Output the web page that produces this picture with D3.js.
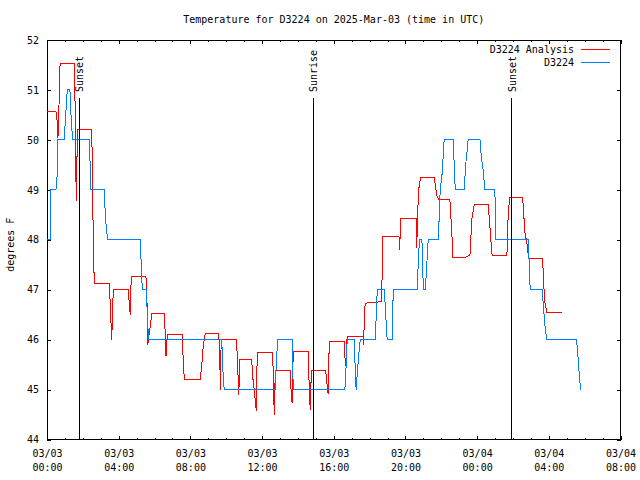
<!DOCTYPE html>
<html>
<head>
<meta charset="utf-8">
<script src="https://cdn.jsdelivr.net/npm/d3@7"></script>
<style>
  html, body { margin: 0; padding: 0; background: #fff; }
  svg { display: block; }
  text { font-family: "DejaVu Sans Mono", monospace; font-size: 10px; fill: #000; }
</style>
</head>
<body>
<svg id="chart" width="640" height="480"></svg>
<script>
// ---------------- data ----------------
// hours since 2025-03-03 00:00 UTC
const analysisHours = [0.00,0.50,0.56,0.61,0.67,0.73,1.51,1.56,1.61,1.65,1.69,2.49,2.54,2.58,2.64,3.48,3.51,3.61,3.70,4.54,4.59,4.65,4.70,5.52,5.58,5.62,5.71,5.78,5.86,6.54,6.60,6.64,6.71,7.55,7.59,7.66,8.55,8.63,8.72,8.83,9.58,9.62,9.65,9.67,9.72,10.58,10.61,10.67,10.71,10.73,11.42,11.48,11.59,11.68,11.73,12.59,12.65,12.68,12.74,13.57,13.63,13.68,13.74,14.58,14.64,14.69,14.75,15.55,15.60,15.66,15.69,15.75,16.59,16.62,16.66,16.75,17.65,17.67,17.71,17.76,18.43,18.65,18.69,18.73,19.64,19.68,19.73,20.59,20.63,20.68,20.75,20.85,21.61,21.69,21.76,21.87,22.48,22.58,22.65,23.38,23.60,23.67,23.71,23.84,24.62,24.70,24.77,24.84,25.66,25.69,25.74,25.83,26.54,26.61,26.67,26.78,26.87,27.65,27.71,27.76,27.88,28.71];
const analysisTemps = [50.57,50.57,50.40,50.03,50.70,51.53,51.53,50.87,49.27,48.77,50.20,50.20,49.40,47.93,47.13,47.13,46.87,46.00,47.01,47.01,46.70,46.50,47.27,47.27,46.73,45.90,46.13,46.33,46.53,46.53,46.10,45.67,46.10,46.10,45.70,45.20,45.20,45.47,45.87,46.13,46.13,45.83,45.50,45.00,46.01,46.01,45.70,45.20,44.90,45.61,45.61,45.25,44.90,44.57,45.75,45.75,44.97,44.50,45.38,45.38,44.90,44.73,45.77,45.77,44.90,44.60,45.39,45.39,45.20,45.00,44.91,45.97,45.97,45.67,45.47,46.07,46.07,45.90,46.52,46.73,46.75,46.77,47.13,48.07,48.07,47.80,48.43,48.43,47.83,48.53,49.03,49.25,49.25,49.03,48.87,48.80,48.80,48.20,47.65,47.65,47.70,48.17,48.43,48.71,48.71,48.33,47.97,47.68,47.68,48.00,48.58,48.85,48.85,48.46,48.13,47.93,47.63,47.63,47.20,46.80,46.55,46.55];

const stationHours = [0.00,0.17,0.18,0.22,0.50,0.56,0.61,0.97,1.02,1.08,1.13,1.28,1.34,1.39,1.45,2.36,2.43,2.45,3.20,3.25,3.33,3.39,5.21,5.26,5.32,5.56,5.59,5.67,9.75,9.80,9.86,9.89,12.74,12.79,12.87,13.68,13.74,16.62,16.68,16.75,17.14,17.20,17.25,17.31,17.37,17.48,18.32,18.37,18.43,18.82,18.87,18.93,18.98,19.26,19.32,20.66,20.71,20.78,20.92,21.00,21.11,21.19,21.27,21.83,21.89,21.94,22.04,22.11,22.16,22.67,22.72,22.78,23.28,23.36,23.42,23.50,24.16,24.25,24.34,24.43,24.99,25.05,26.85,26.91,26.96,27.63,27.71,27.78,27.88,29.55,29.62,29.68,29.77];
const stationTemps = [48.00,48.00,48.50,49.00,49.00,49.27,50.00,50.00,50.40,50.70,51.00,51.00,50.50,50.20,50.00,50.00,49.27,49.00,49.00,48.50,48.17,48.00,48.00,47.45,47.00,47.00,46.50,46.00,46.00,45.50,45.10,45.00,45.00,45.50,46.00,46.00,45.00,45.00,45.40,46.00,46.00,45.40,45.00,45.30,45.60,46.00,46.00,46.50,47.00,47.00,46.70,46.30,46.00,46.00,47.00,47.00,47.50,48.00,48.00,47.00,47.00,47.50,48.00,48.00,48.50,49.00,49.30,49.70,50.00,50.00,49.50,49.00,49.00,49.50,49.70,50.00,50.00,49.60,49.40,49.00,49.00,48.00,48.00,47.50,47.00,47.00,46.60,46.30,46.00,46.00,45.70,45.40,45.00];

const eventNames = ["Sunset", "Sunrise", "Sunset"];
const eventHours = [1.80, 14.86, 25.93];

const seriesNames = ["D3224 Analysis", "D3224"];
const seriesColors = ["#ff0000", "#0080ff"];

const yTicks = [44, 45, 46, 47, 48, 49, 50, 51, 52];
const titleText = "Temperature for D3224 on 2025-Mar-03 (time in UTC)";
const yLabel = "degrees F";

// ---------------- setup ----------------
const start = Date.UTC(2025, 2, 3, 0, 0);
const toDate = h => new Date(start + h * 3600000);
const xDomain = [toDate(0), toDate(32)];

const L = 47, R = 620.5, T = 40, B = 439.5;
const svg = d3.select("#chart");

const x = d3.scaleUtc().domain(xDomain).range([L, R]);
const y = d3.scaleLinear().domain([44, 52]).range([B, T]);

const majorX = d3.utcHour.every(4).range(xDomain[0], toDate(32.01));
const minorX = d3.utcHour.every(1).range(xDomain[0], toDate(32.01));

// title
svg.append("text").attr("x", (L + R) / 2).attr("y", 23)
  .attr("text-anchor", "middle").text(titleText);

// y label
svg.append("text")
  .attr("transform", `translate(14,${(T + B) / 2 + 5}) rotate(-90)`)
  .attr("text-anchor", "middle").text(yLabel);

// minor ticks (bottom & top)
const g = svg.append("g").attr("shape-rendering", "crispEdges");
g.append("g").attr("transform", `translate(0,${B})`)
  .call(d3.axisBottom(x).tickValues(minorX).tickSize(-2).tickFormat(""))
  .call(s => s.select(".domain").remove());
g.append("g").attr("transform", `translate(0,${T})`)
  .call(d3.axisTop(x).tickValues(minorX).tickSize(-2).tickFormat(""))
  .call(s => s.select(".domain").remove());

// major x ticks bottom with labels
const fmtD = d3.utcFormat("%m/%d"), fmtT = d3.utcFormat("%H:%M");
const xb = g.append("g").attr("transform", `translate(0,${B})`)
  .call(d3.axisBottom(x).tickValues(majorX).tickSize(-4).tickFormat(d => fmtD(d) + "|" + fmtT(d)));
xb.select(".domain").remove();
xb.selectAll(".tick text").each(function () {
  const parts = d3.select(this).text().split("|");
  const t = d3.select(this).text(null).attr("y", 0).attr("dy", null);
  t.append("tspan").attr("x", 0).attr("y", 17).text(parts[0]);
  t.append("tspan").attr("x", 0).attr("y", 31).text(parts[1]);
});
g.append("g").attr("transform", `translate(0,${T})`)
  .call(d3.axisTop(x).tickValues(majorX).tickSize(-4).tickFormat(""))
  .call(s => s.select(".domain").remove());

// y ticks
const yl = g.append("g").attr("transform", `translate(${L},0)`)
  .call(d3.axisLeft(y).tickValues(yTicks).tickSize(-4).tickPadding(8).tickFormat(d3.format("d")));
yl.select(".domain").remove();
g.append("g").attr("transform", `translate(${R},0)`)
  .call(d3.axisRight(y).tickValues(yTicks).tickSize(-4).tickFormat(""))
  .call(s => s.select(".domain").remove());

svg.selectAll(".tick text").style("font-family", '"DejaVu Sans Mono", monospace').style("font-size", "10px").attr("fill", "#000");
svg.selectAll(".tick line").attr("stroke", "#000");

// frame
g.append("rect").attr("x", L).attr("y", T).attr("width", R - L).attr("height", B - T)
  .attr("fill", "none").attr("stroke", "#000");

// series
const line = d3.line().x(d => x(toDate(d[0]))).y(d => y(d[1]));
const analysis = analysisHours.map((h, i) => [h, analysisTemps[i]]);
const station = stationHours.map((h, i) => [h, stationTemps[i]]);

svg.append("path").datum(analysis).attr("d", line)
  .attr("fill", "none").attr("stroke", seriesColors[0]).attr("stroke-width", 1)
  .attr("shape-rendering", "crispEdges");
svg.append("path").datum(station).attr("d", line)
  .attr("fill", "none").attr("stroke", seriesColors[1]).attr("stroke-width", 1)
  .attr("shape-rendering", "crispEdges");

// events
eventHours.forEach((h, i) => {
  const ex = x(toDate(h));
  svg.append("line").attr("x1", ex).attr("x2", ex).attr("y1", 98).attr("y2", B)
    .attr("stroke", "#000").attr("shape-rendering", "crispEdges");
  svg.append("text").attr("transform", `translate(${ex + 4},92) rotate(-90)`)
    .attr("text-anchor", "start").text(eventNames[i]);
});

// legend
seriesNames.forEach((n, i) => {
  const ly = 49.5 + i * 13.3;
  svg.append("text").attr("x", 574).attr("y", ly + 3.5).attr("text-anchor", "end").text(n);
  svg.append("line").attr("x1", 581).attr("x2", 610).attr("y1", ly).attr("y2", ly)
    .attr("stroke", seriesColors[i]).attr("shape-rendering", "crispEdges");
});
</script>
</body>
</html>
